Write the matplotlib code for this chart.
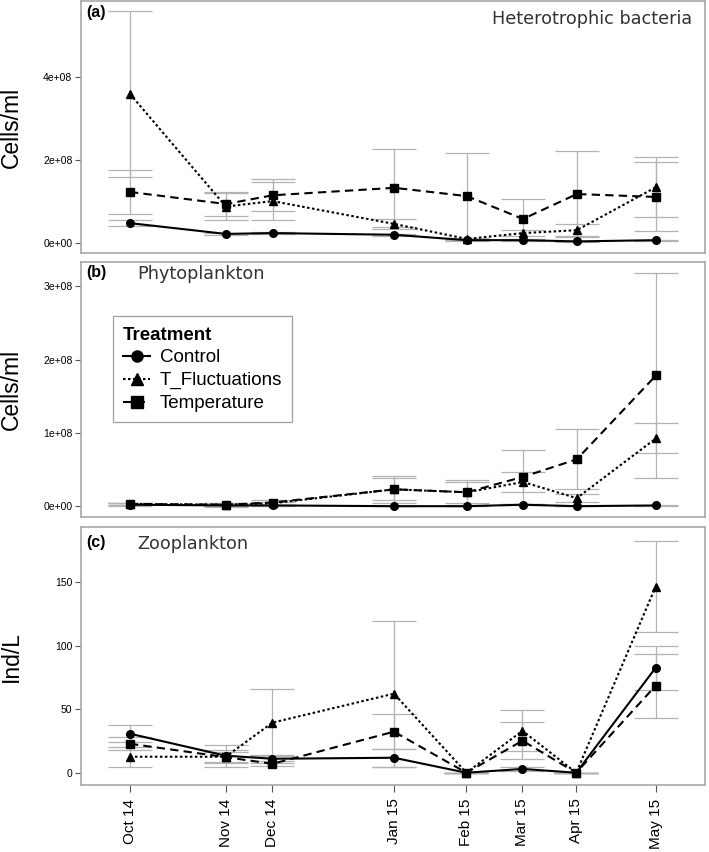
import matplotlib
matplotlib.use("Agg")
import matplotlib.pyplot as plt
import numpy as np
from matplotlib.lines import Line2D

plt.rcParams['font.family'] = ['Liberation Sans', 'DejaVu Sans']

# sampling occasions (days since first sampling) and their labels
sample_day = [0, 41, 61, 113, 144, 168, 191, 225]
month_labels = ['Oct 14', 'Nov 14', 'Dec 14', 'Jan 15', 'Feb 15', 'Mar 15', 'Apr 15', 'May 15']
treatments = ['Control', 'T_Fluctuations', 'Temperature']

# (a) heterotrophic bacteria, cells/ml (x1e8)
bact_control = [0.48, 0.22, 0.24, 0.20, 0.07, 0.07, 0.04, 0.07]
bact_control_se = [0.08, 0.03, 0.02, 0.02, 0.01, 0.01, 0.01, 0.01]
bact_fluct = [3.59, 0.88, 1.01, 0.46, 0.10, 0.24, 0.31, 1.35]
bact_fluct_se = [2.00, 0.33, 0.45, 0.13, 0.02, 0.07, 0.14, 0.72]
bact_temp = [1.23, 0.94, 1.15, 1.33, 1.13, 0.58, 1.18, 1.11]
bact_temp_se = [0.52, 0.28, 0.39, 0.94, 1.04, 0.48, 1.04, 0.83]

# (b) phytoplankton, cells/ml (x1e8)
phyto_control = [0.02, 0.01, 0.01, 0.00, 0.00, 0.02, 0.00, 0.01]
phyto_control_se = [0.02, 0.01, 0.01, 0.00, 0.00, 0.01, 0.00, 0.01]
phyto_fluct = [0.03, 0.02, 0.04, 0.23, 0.19, 0.33, 0.11, 0.93]
phyto_fluct_se = [0.02, 0.02, 0.02, 0.15, 0.14, 0.14, 0.05, 0.21]
phyto_temp = [0.03, 0.02, 0.05, 0.23, 0.19, 0.40, 0.64, 1.79]
phyto_temp_se = [0.02, 0.03, 0.03, 0.18, 0.17, 0.37, 0.41, 1.40]

# (c) zooplankton, ind/L
zoo_control = [30.7, 13.4, 11.0, 11.8, 0.0, 3.0, 0.0, 82.6]
zoo_control_se = [6.5, 8.7, 3.0, 7.0, 0.0, 1.5, 0.0, 17.4]
zoo_fluct = [12.6, 12.6, 39.4, 62.2, 0.0, 33.0, 0.0, 146.4]
zoo_fluct_se = [8.0, 5.0, 26.5, 57.4, 0.0, 16.0, 0.0, 35.5]
zoo_temp = [22.8, 12.3, 7.0, 32.3, 0.0, 25.2, 0.0, 68.5]
zoo_temp_se = [5.0, 4.0, 2.0, 14.0, 0.0, 14.5, 0.0, 25.2]

styles = {
    'Control': dict(ls='-', marker='o'),
    'T_Fluctuations': dict(ls=(0, (1.2, 1.2)), marker='^'),
    'Temperature': dict(ls=(0, (4, 2.5)), marker='s'),
}

fig = plt.figure(figsize=(7.09, 8.52), dpi=100)
left, right = 0.114, 0.995
ax_a = fig.add_axes([left, 0.703, right - left, 0.296])
ax_b = fig.add_axes([left, 0.393, right - left, 0.300])
ax_c = fig.add_axes([left, 0.079, 0.994 - left, 0.302])

panels = [
    (ax_a, [(bact_control, bact_control_se), (bact_fluct, bact_fluct_se), (bact_temp, bact_temp_se)], 1e8),
    (ax_b, [(phyto_control, phyto_control_se), (phyto_fluct, phyto_fluct_se), (phyto_temp, phyto_temp_se)], 1e8),
    (ax_c, [(zoo_control, zoo_control_se), (zoo_fluct, zoo_fluct_se), (zoo_temp, zoo_temp_se)], 1),
]

for ax, series, scale in panels:
    for name, (vals, se) in zip(treatments, series):
        v = np.array(vals) * scale
        e = np.array(se) * scale
        ax.errorbar(sample_day, v, yerr=e, fmt='none', ecolor='#b3b3b3',
                    elinewidth=0.9, capsize=15.5, capthick=0.9, zorder=1)
    for name, (vals, se) in zip(treatments, series):
        v = np.array(vals) * scale
        st = styles[name]
        ax.plot(sample_day, v, color='black', linestyle=st['ls'], lw=1.5,
                marker=st['marker'], markersize=5.5, zorder=3)
    ax.set_xlim(-21, 246)
    for sp in ax.spines.values():
        sp.set_color('#a8a8a8')
        sp.set_linewidth(1.2)
    ax.tick_params(axis='y', labelsize=7.5, length=4, color='#555555', width=0.8, pad=2)
    ax.yaxis.set_label_coords(-0.093, 0.5)

for ax in (ax_a, ax_b):
    ax.set_xticks([])
    ax.set_ylabel('Cells/ml', fontsize=16.5)

ax_a.set_ylim(-0.24e8, 5.83e8)
ax_a.set_yticks([0, 2e8, 4e8])
ax_a.set_yticklabels(['0e+00', '2e+08', '4e+08'])
ax_b.set_ylim(-0.15e8, 3.34e8)
ax_b.set_yticks([0, 1e8, 2e8, 3e8])
ax_b.set_yticklabels(['0e+00', '1e+08', '2e+08', '3e+08'])
ax_c.set_ylim(-9.4, 193)
ax_c.set_yticks([0, 50, 100, 150])
ax_c.set_ylabel('Ind/L', fontsize=16.5)

ax_c.set_xticks(sample_day)
ax_c.set_xticklabels(month_labels, rotation=90, fontsize=11)
ax_c.tick_params(axis='x', length=5, color='#555555', width=0.8, pad=5)

# panel titles
ax_a.text(0.008, 0.985, '(a)', transform=ax_a.transAxes, fontsize=11.5, fontweight='bold', va='top')
ax_a.text(0.978, 0.965, 'Heterotrophic bacteria', transform=ax_a.transAxes, fontsize=12.7,
          family='DejaVu Sans', color='#333333', ha='right', va='top')
ax_b.text(0.008, 0.985, '(b)', transform=ax_b.transAxes, fontsize=11.5, fontweight='bold', va='top')
ax_b.text(0.09, 0.985, 'Phytoplankton', transform=ax_b.transAxes, fontsize=12.7,
          family='DejaVu Sans', color='#333333', va='top')
ax_c.text(0.008, 0.97, '(c)', transform=ax_c.transAxes, fontsize=11.5, fontweight='bold', va='top')
ax_c.text(0.09, 0.97, 'Zooplankton', transform=ax_c.transAxes, fontsize=12.7,
          family='DejaVu Sans', color='#333333', va='top')

# legend
handles = [Line2D([], [], color='black', lw=1.5, linestyle=styles[n]['ls'],
                  marker=styles[n]['marker'], markersize=8) for n in treatments]
leg = ax_b.legend(handles, treatments, title='Treatment', loc='upper left',
                  bbox_to_anchor=(0.036, 0.822), fontsize=13.5, title_fontsize=13.5,
                  frameon=True, fancybox=False, edgecolor='#888888',
                  handlelength=1.45, handletextpad=0.5, labelspacing=0.3,
                  borderpad=0.55, alignment='left')
leg.get_title().set_fontweight('bold')
leg.get_frame().set_linewidth(0.9)

fig.savefig('out.png', dpi=100)
